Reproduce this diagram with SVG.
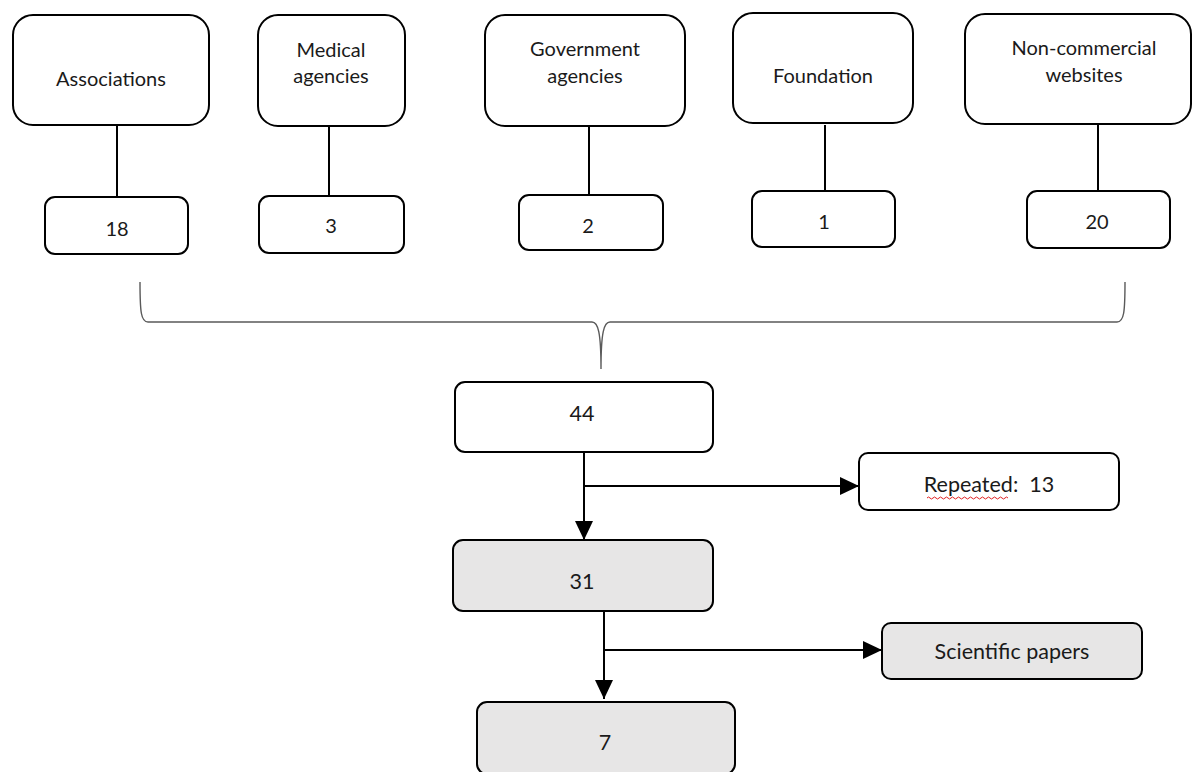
<svg xmlns="http://www.w3.org/2000/svg" width="1193" height="772" viewBox="0 0 1193 772">
<defs>
<marker id="ah" markerUnits="userSpaceOnUse" markerWidth="20" markerHeight="18" refX="19" refY="9" orient="auto">
<path d="M0,0 L19,9 L0,18 Z" fill="#000"/>
</marker>
<style>
.box{fill:#fff;stroke:#000;stroke-width:2}
.gray{fill:#e7e6e6;stroke:#000;stroke-width:2}
text{font-family:Lato,"Liberation Sans",sans-serif;font-size:20px;fill:#1a1a1a;text-anchor:middle}
.lg{font-size:21.5px}
.ln{stroke:#000;stroke-width:2;fill:none}
.brace{stroke:#5a5a5a;stroke-width:1.4;fill:none}
</style>
</defs>
<rect width="1193" height="772" fill="#fff"/>
<g id="connectors">
<line class="ln" x1="117" y1="125" x2="117" y2="197"/>
<line class="ln" x1="329" y1="126" x2="329" y2="196"/>
<line class="ln" x1="589" y1="126" x2="589" y2="195"/>
<line class="ln" x1="825" y1="125" x2="825" y2="193"/>
<line class="ln" x1="1098" y1="124" x2="1098" y2="191"/>
<path class="brace" d="M140,282 C140,312 141,322 148,322 L592,322 C598,322 601,332 601,369 C601,332 604,322 610,322 L1117,322 C1124,322 1125,312 1125,282"/>
<line class="ln" x1="584" y1="452" x2="584" y2="540" marker-end="url(#ah)"/>
<line class="ln" x1="584" y1="486" x2="859" y2="486" marker-end="url(#ah)"/>
<line class="ln" x1="604" y1="611" x2="604" y2="699" marker-end="url(#ah)"/>
<line class="ln" x1="604" y1="650" x2="882" y2="650" marker-end="url(#ah)"/>
</g>
<g id="associations"><rect class="box" x="13" y="15" width="196" height="110" rx="20"/><text x="111" y="86">Associations</text></g>
<g id="medical"><rect class="box" x="258" y="15" width="147" height="111" rx="20"/><text x="331" y="57">Medical</text><text x="331" y="83">agencies</text></g>
<g id="government"><rect class="box" x="485" y="15" width="200" height="111" rx="20"/><text x="585" y="56">Government</text><text x="585" y="83">agencies</text></g>
<g id="foundation"><rect class="box" x="733" y="13" width="180" height="110" rx="20"/><text x="823" y="83">Foundation</text></g>
<g id="noncommercial"><rect class="box" x="965" y="14" width="226" height="110" rx="20"/><text x="1084" y="55">Non-commercial</text><text x="1084" y="82">websites</text></g>
<g id="n18"><rect class="box" x="45" y="197" width="143" height="57" rx="10"/><text x="117" y="236">18</text></g>
<g id="n3"><rect class="box" x="259" y="196" width="145" height="57" rx="10"/><text x="331" y="233">3</text></g>
<g id="n2"><rect class="box" x="519" y="195" width="144" height="55" rx="10"/><text x="588" y="233">2</text></g>
<g id="n1"><rect class="box" x="752" y="191" width="143" height="56" rx="10"/><text x="824" y="229">1</text></g>
<g id="n20"><rect class="box" x="1027" y="191" width="143" height="57" rx="10"/><text x="1097" y="229">20</text></g>
<g id="n44"><rect class="box" x="455" y="382" width="258" height="70" rx="10"/><text class="lg" x="582" y="421">44</text></g>
<g id="repeated"><rect class="box" x="859" y="453" width="260" height="57" rx="9"/><text class="lg" x="989" y="492" xml:space="preserve">Repeated:  13</text>
<path d="M927,498 q1.5,-2 3,0 t3,0 t3,0 t3,0 t3,0 t3,0 t3,0 t3,0 t3,0 t3,0 t3,0 t3,0 t3,0 t3,0 t3,0 t3,0 t3,0 t3,0 t3,0 t3,0 t3,0 t3,0 t3,0 t3,0 t3,0 t3,0 t3,0" fill="none" stroke="#e02020" stroke-width="1"/></g>
<g id="n31"><rect class="gray" x="453" y="540" width="260" height="71" rx="10"/><text class="lg" x="582" y="589">31</text></g>
<g id="scientific"><rect class="gray" x="882" y="623" width="260" height="56" rx="9"/><text class="lg" x="1012" y="659">Scientific papers</text></g>
<g id="n7"><rect class="gray" x="477" y="702" width="258" height="72" rx="10"/><text class="lg" x="605" y="750">7</text></g>
</svg>
